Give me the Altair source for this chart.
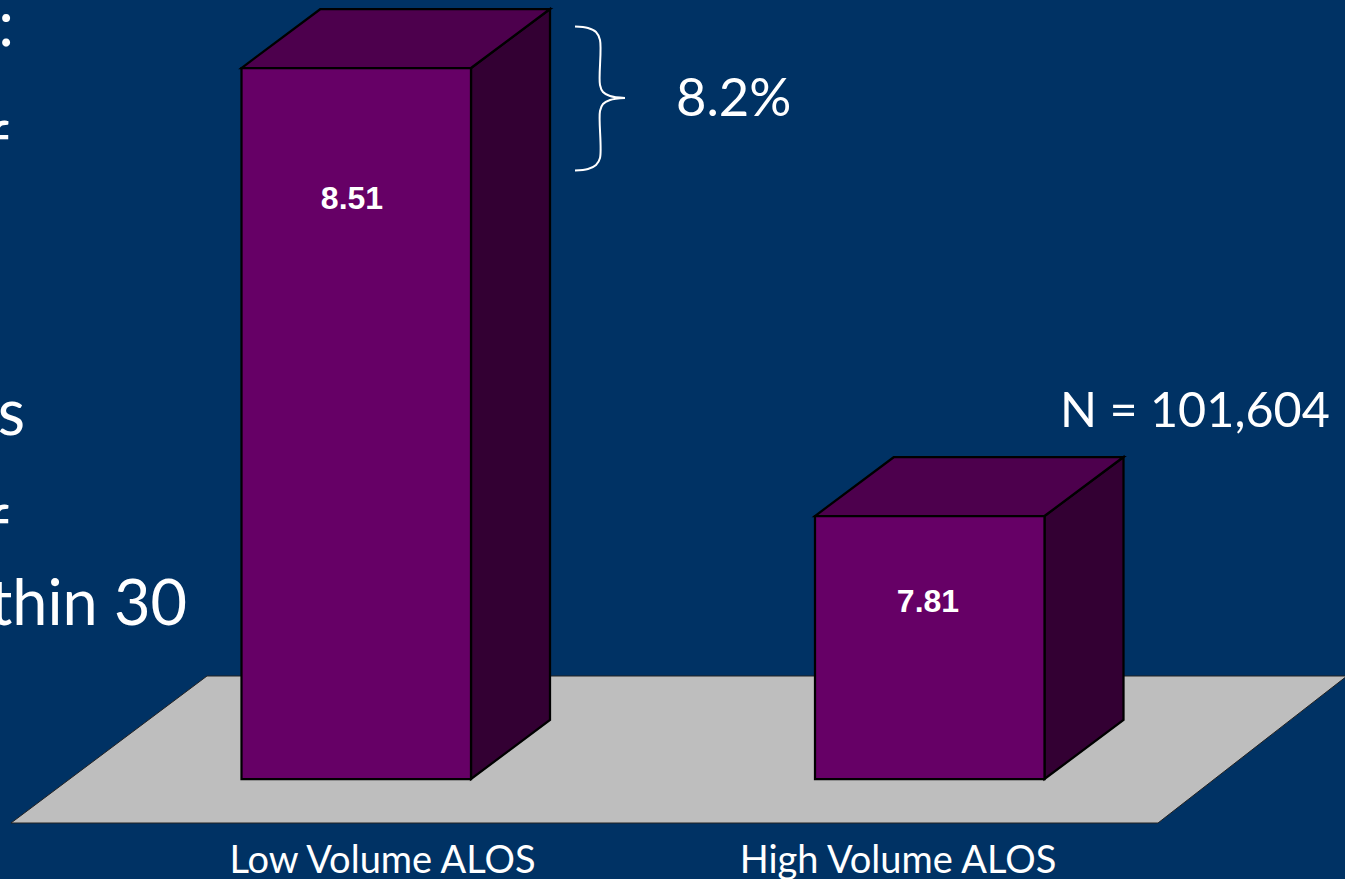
import altair as alt
import pandas as pd

# Average length of stay by hospital volume
categories = ["Low Volume ALOS", "High Volume ALOS"]
alos = [8.51, 7.81]

W, H = 1345, 879
BASE_PX = 779          # pixel row of the value-axis origin
PX_PER_DAY = 640       # pixels per day of ALOS
BASE_VALUE = 7.81 - (BASE_PX - 516) / PX_PER_DAY


def v(py):
    """Value on the ALOS scale that sits at a given pixel row."""
    return BASE_VALUE + (BASE_PX - py) / PX_PER_DAY


x_scale = alt.Scale(domain=[0, W], range=[0, W], nice=False, zero=False)
y_scale = alt.Scale(domain=[v(H), v(0)], range=[H, 0], nice=False, zero=False)

BAR_LEFT = [241.5, 815]
BAR_WIDTH = 229.5
DEPTH_X = 79
DEPTH_Y = 59 / PX_PER_DAY

BG = "#003264"
FRONT = "#660066"
TOP = "#4d004d"
SIDE = "#330033"
FLOOR = "#bebebe"
INK = "#000000"
TEXT = "#ffffff"


def X(f="x"):
    return alt.X(f"{f}:Q", scale=x_scale, axis=None)


def Y(f="y"):
    return alt.Y(f"{f}:Q", scale=y_scale, axis=None, stack=None)


floor = pd.DataFrame({
    "y": [v(823), v(676)],
    "x": [11, 207],
    "x2": [1158, 1347],
})
floor_layer = alt.Chart(floor).mark_area(
    orient="horizontal", color=FLOOR, stroke="#222222", strokeWidth=1
).encode(y=Y(), x=X(), x2=alt.X2("x2"))

front_rows, side_rows, top_rows = [], [], []
for cat, val, left in zip(categories, alos, BAR_LEFT):
    right = left + BAR_WIDTH
    front_rows.append({"cat": cat, "x": left, "x2": right, "y": val, "y2": BASE_VALUE})
    side_rows += [
        {"cat": cat, "x": right, "y": val, "y2": BASE_VALUE},
        {"cat": cat, "x": right + DEPTH_X, "y": val + DEPTH_Y, "y2": BASE_VALUE + DEPTH_Y},
    ]
    top_rows += [
        {"cat": cat, "y": val, "x": left, "x2": right},
        {"cat": cat, "y": val + DEPTH_Y, "x": left + DEPTH_X, "x2": right + DEPTH_X},
    ]

side_layer = alt.Chart(pd.DataFrame(side_rows)).mark_area(
    color=SIDE, stroke=INK, strokeWidth=2.25
).encode(x=X(), y=Y(), y2=alt.Y2("y2"), detail="cat:N")

top_layer = alt.Chart(pd.DataFrame(top_rows)).mark_area(
    orient="horizontal", color=TOP, stroke=INK, strokeWidth=2.25
).encode(y=Y(), x=X(), x2=alt.X2("x2"), detail="cat:N")

front_layer = alt.Chart(pd.DataFrame(front_rows)).mark_rect(
    color=FRONT, stroke=INK, strokeWidth=2.25
).encode(x=X(), x2=alt.X2("x2"), y=Y(), y2=alt.Y2("y2"))

# Value labels inside the front faces
value_labels = pd.DataFrame({
    "label": [f"{a:.2f}" for a in alos],
    "x": [352, 928],
    "y": [v(198.5), v(601.5)],
})
value_layer = alt.Chart(value_labels).mark_text(
    font="Liberation Sans", fontWeight="bold", fontSize=32, color=TEXT, baseline="middle"
).encode(x=X(), y=Y(), text="label:N")

# Category captions under the floor
cat_labels = pd.DataFrame({"label": categories, "x": [382.5, 898], "y": [v(862), v(862)]})
cat_layer = alt.Chart(cat_labels).mark_text(
    font="Lato", fontSize=38, color=TEXT, baseline="middle"
).encode(x=X(), y=Y(), text="label:N")

# Curly brace beside the taller bar
brace_pts_x = [575, 588, 596, 600, 600, 603, 610, 625,
               625, 610, 603, 600, 600, 596, 588, 575]
brace_pts_y = [26.5, 28, 32, 40, 85, 92, 96, 98,
               98, 100, 104, 111, 158, 165, 169, 170.5]
brace_part = ["upper"] * 8 + ["lower"] * 8
brace = pd.DataFrame({
    "x": brace_pts_x,
    "y": [v(p) for p in brace_pts_y],
    "part": brace_part,
    "order": list(range(16)),
})
brace_layer = alt.Chart(brace).mark_line(
    color=TEXT, strokeWidth=2, interpolate="catmull-rom"
).encode(x=X(), y=Y(), detail="part:N", order="order:Q")

# Annotations and the body text running off the left edge
notes = pd.DataFrame({
    "label": ["8.2%", "N = 101,604"],
    "x": [676, 1060],
    "y": [v(100), v(412)],
    "size": [52.5, 48.5],
})
notes_layer = alt.Chart(notes).mark_text(
    font="Lato", color=TEXT, baseline="middle", align="left"
).encode(
    x=X(), y=Y(), text="label:N",
    size=alt.Size("size:Q", scale=None, legend=None),
)

body = pd.DataFrame({
    "label": [":", "f", "s", "f", "within 30"],
    "x": [14, 9, 25, 9, 187],
    "y": [v(46), v(167), v(435), v(551), v(625)],
})
body_layer = alt.Chart(body).mark_text(
    font="Lato", fontSize=63, color=TEXT, baseline="alphabetic", align="right"
).encode(x=X(), y=Y(), text="label:N")

chart = alt.layer(
    floor_layer, side_layer, top_layer, front_layer,
    value_layer, cat_layer, brace_layer, notes_layer, body_layer,
).properties(
    width=W, height=H, padding=0, autosize="none", background=BG
).configure_view(stroke=None)

chart.save("out.html", embed_options={"renderer": "svg", "actions": False})
